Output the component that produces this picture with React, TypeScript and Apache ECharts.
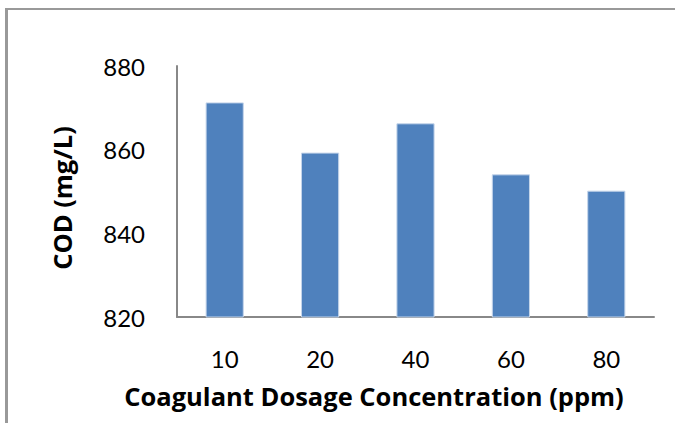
import React, { useEffect, useRef } from "react";
import * as echarts from "echarts";

const categories = ["10", "20", "40", "60", "80"];
const codValues = [871.3, 859.3, 866.3, 854.1, 850.2];
const yTicks = { min: 820, max: 880, interval: 20 };
const xTitle = "Coagulant Dosage Concentration (ppm)";
const yTitle = "COD (mg/L)";

export default function App() {
  const ref = useRef<HTMLDivElement>(null);
  useEffect(() => {
    if (!ref.current) return;
    const chart = echarts.init(ref.current, null, { renderer: "svg" });
    const font = "Lato, 'Open Sans', sans-serif";
    const titleFont = "'Open Sans', Lato, sans-serif";
    chart.setOption({
      animation: false,
      grid: { left: 177, top: 66, width: 477, height: 251 },
      xAxis: {
        type: "category",
        data: categories,
        axisLine: { lineStyle: { color: "#888", width: 2 } },
        axisTick: { show: false },
        axisLabel: { fontSize: 24, color: "#000", margin: 29, fontFamily: font },
      },
      yAxis: {
        type: "value",
        min: yTicks.min,
        max: yTicks.max,
        interval: yTicks.interval,
        axisLine: { show: true, lineStyle: { color: "#888", width: 2 } },
        axisTick: { show: false },
        splitLine: { show: false },
        axisLabel: { fontSize: 24, color: "#000", margin: 32, fontFamily: font },
      },
      graphic: [
        {
          type: "text",
          x: 374,
          y: 396,
          style: {
            text: xTitle,
            fontSize: 25.5,
            fontWeight: "bold",
            fontFamily: titleFont,
            fill: "#000",
            textAlign: "center",
            align: "center",
            textVerticalAlign: "middle",
            verticalAlign: "middle",
          },
        },
        {
          type: "text",
          x: 62,
          y: 198,
          rotation: Math.PI / 2,
          style: {
            text: yTitle,
            fontSize: 25.5,
            fontWeight: "bold",
            fontFamily: titleFont,
            fill: "#000",
            textAlign: "center",
            align: "center",
            textVerticalAlign: "middle",
            verticalAlign: "middle",
          },
        },
      ],
      series: [
        {
          type: "bar",
          data: codValues,
          barWidth: "40%",
          itemStyle: { color: "#4F81BD", borderColor: "#C5D5EA", borderWidth: 1 },
        },
      ],
    });
    return () => chart.dispose();
  }, []);
  return (
    <div style={{ position: "fixed", left: 0, top: 0, width: 675, height: 423, background: "#fff", overflow: "hidden" }}>
      <div
        style={{
          position: "absolute",
          left: 5,
          top: 8,
          width: 800,
          height: 600,
          borderTop: "2px solid #999",
          borderLeft: "3px solid #999",
        }}
      />
      <div ref={ref} style={{ position: "absolute", left: 0, top: 0, width: 675, height: 423 }} />
    </div>
  );
}
